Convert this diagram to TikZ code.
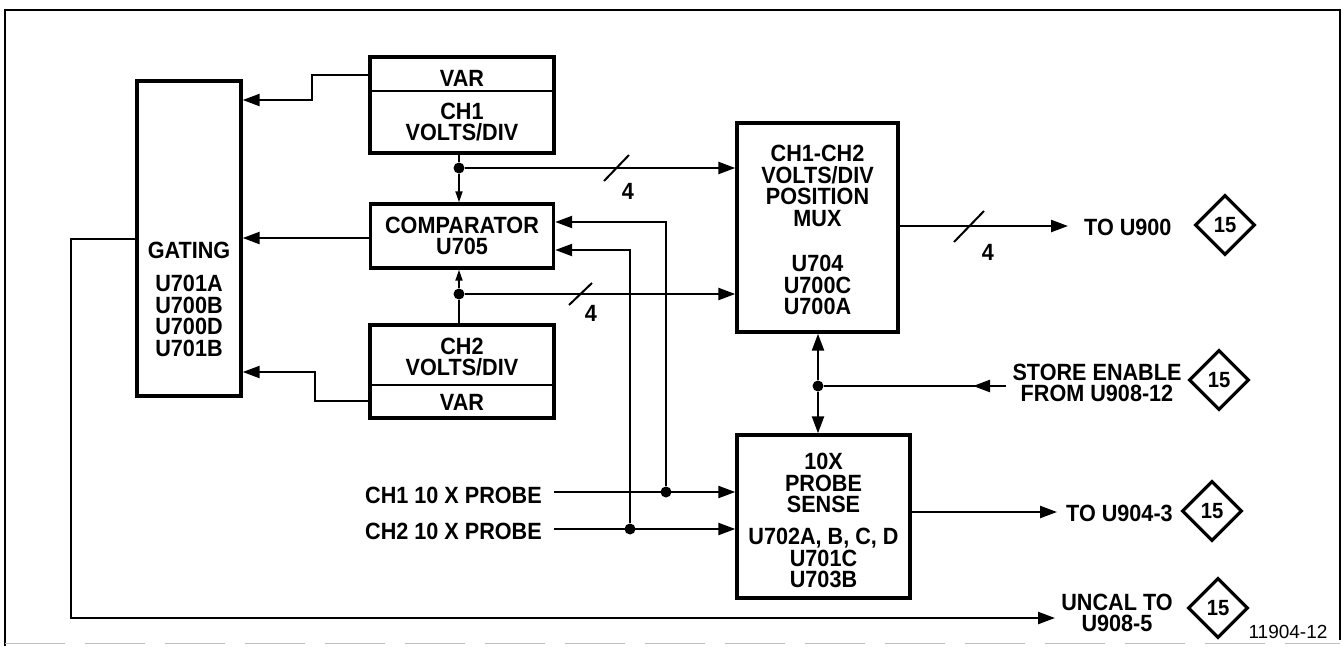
\documentclass[tikz,border=0pt]{standalone}
\usepackage{fontspec}
\setmainfont{Liberation Sans}[FakeStretch=0.92]
\newfontfamily\figfont{Liberation Sans}
\usetikzlibrary{shapes.geometric,arrows.meta}
\tikzset{
  box/.style={draw, line width=3.4pt, inner sep=0pt},
  wire/.style={line width=2.3pt},
  thin wire/.style={line width=1.8pt},
  arr/.style={-{Triangle[length=17pt,width=12pt]}},
  sarr/.style={-{Triangle[length=11pt,width=7pt]}},
  lbl/.style={font=\fontsize{23.5}{21.5}\selectfont\bfseries, align=center, inner sep=0pt},
  dot/.style={circle, fill, inner sep=0pt, minimum size=11pt},
  conn/.style={diamond, draw, line width=3.2pt, minimum width=60pt, minimum height=60pt, inner sep=0pt, font=\fontsize{22}{22}\selectfont\bfseries},
  slash/.style={line width=2pt},
}
\begin{document}
\begin{tikzpicture}[x=1pt,y=-1pt]
\useasboundingbox (0,0) rectangle (1344,646);
% frame
\draw[line width=2.4pt] (5,646) -- (5,10) -- (1340,10) -- (1340,640);
\draw[line width=1pt, black!25, dash pattern=on 60pt off 20pt] (5,643) -- (1340,643);

% boxes
\node[box, minimum width=104pt, minimum height=315pt] (gating) at (189,238.5) {};
\node[lbl] (gatingtxt) at (189,299) {GATING\\[12pt]U701A\\U700B\\U700D\\U701B};

\node[box, minimum width=184pt, minimum height=96pt] (ch1) at (462,105) {};
\draw[line width=2.8pt] (370,91) -- (554,91);
\node[lbl] (ch1var) at (462,78) {VAR};
\node[lbl] (ch1txt) at (462,122) {CH1\\VOLTS/DIV};

\node[box, minimum width=183pt, minimum height=64pt, lbl] (comp) at (462,236) {COMPARATOR\\U705};

\node[box, minimum width=184pt, minimum height=93pt] (ch2) at (462,371.5) {};
\draw[line width=2.8pt] (370,385) -- (554,385);
\node[lbl] (ch2txt) at (462,357) {CH2\\VOLTS/DIV};
\node[lbl] (ch2var) at (462,402) {VAR};

\node[box, minimum width=161pt, minimum height=209pt] (mux) at (817.5,227.5) {};
\node[lbl] (muxtxt1) at (817.5,186) {CH1-CH2\\VOLTS/DIV\\POSITION\\MUX};
\node[lbl] (muxtxt2) at (817.5,285) {U704\\U700C\\U700A};

\node[box, minimum width=173pt, minimum height=163pt] (probe) at (823.5,516.5) {};
\node[lbl] (probetxt1) at (823.5,483) {10X\\PROBE\\SENSE};
\node[lbl] (probetxt2) at (823.5,558) {U702A, B, C, D\\U701C\\U703B};

% dots
\node[dot] (d1) at (459,168) {};
\node[dot] (d2) at (459,294) {};
\node[dot] (d3) at (666,492) {};
\node[dot] (d4) at (630,529) {};
\node[dot] (d5) at (818,386) {};

% outside labels
\node[lbl, anchor=east] (p1) at (542,495) {CH1 10 X PROBE};
\node[lbl, anchor=east] (p2) at (542,531) {CH2 10 X PROBE};
\node[lbl, anchor=west] (tou900) at (1084,227) {TO U900};
\node[lbl] (store) at (1097,383) {STORE ENABLE\\FROM U908-12};
\node[lbl, anchor=west] (tou904) at (1066,513) {TO U904-3};
\node[lbl] (uncal) at (1117,613) {UNCAL TO\\U908-5};
\node[font=\figfont\fontsize{19}{19}\selectfont, inner sep=0pt] (fig) at (1288,632) {11904-12};

\node[conn] (k1) at (1225,225) {15};
\node[conn] (k2) at (1219,380) {15};
\node[conn] (k3) at (1212,511) {15};
\node[conn] (k4) at (1218,608) {15};

% coordinates
\coordinate (c1a) at (312,75);
\coordinate (c1b) at (312,100);
\coordinate (c2a) at (315,401);
\coordinate (c2b) at (315,372);
\coordinate (g1) at (71,239);
\coordinate (g2) at (71,618);
\coordinate (uncalend) at (1055,618);
\coordinate (storestart) at (1006,386);
\coordinate (muxend) at (1068,226);
\coordinate (probeend) at (1057,512);
\coordinate (p1s) at (554,492);
\coordinate (p2s) at (554,529);
\coordinate (t1) at (666,222);
\coordinate (t2) at (630,250);

% connectors
\draw[wire, arr] (ch1.west |- c1a) -- (c1a) -- (c1b) -- (gating.east |- c1b);
\draw[wire, arr] (comp.west |- 0,238) -- (gating.east |- 0,238);
\draw[wire, arr] (ch2.west |- c2a) -- (c2a) -- (c2b) -- (gating.east |- c2b);

\draw[wire] (ch1.south -| d1) -- (d1);
\draw[thin wire, sarr] (d1) -- (comp.north -| d1);
\draw[wire, arr] (d1) -- (mux.west |- d1);
\draw[wire] (ch2.north -| d2) -- (d2);
\draw[thin wire, sarr] (d2) -- (comp.south -| d2);
\draw[wire, arr] (d2) -- (mux.west |- d2);

\draw[wire, arr] (p1s) -- (probe.west |- p1s);
\draw[wire, arr] (d3) -- (t1) -- (comp.east |- t1);
\draw[wire, arr] (p2s) -- (probe.west |- p2s);
\draw[wire, arr] (d4) -- (t2) -- (comp.east |- t2);

\draw[wire, arr] (mux.east |- muxend) -- (muxend);
\draw[wire, arr] (probe.east |- probeend) -- (probeend);
\draw[wire, arr] (d5) -- (mux.south -| d5);
\draw[wire, arr] (d5) -- (probe.north -| d5);
\draw[wire] (storestart) -- (d5);
\draw[wire, arr] (storestart) -- (973,386);

\draw[wire, arr] (gating.west |- g1) -- (g1) -- (g2) -- (uncalend);

% bus slashes and widths
\draw[slash] (604,181) -- (629,155);
\node[lbl] (n1) at (628,191) {4};
\draw[slash] (569,305) -- (592,283);
\node[lbl] (n2) at (591,313) {4};
\draw[slash] (954,242) -- (984,211);
\node[lbl] (n3) at (988,252) {4};
\end{tikzpicture}
\end{document}
